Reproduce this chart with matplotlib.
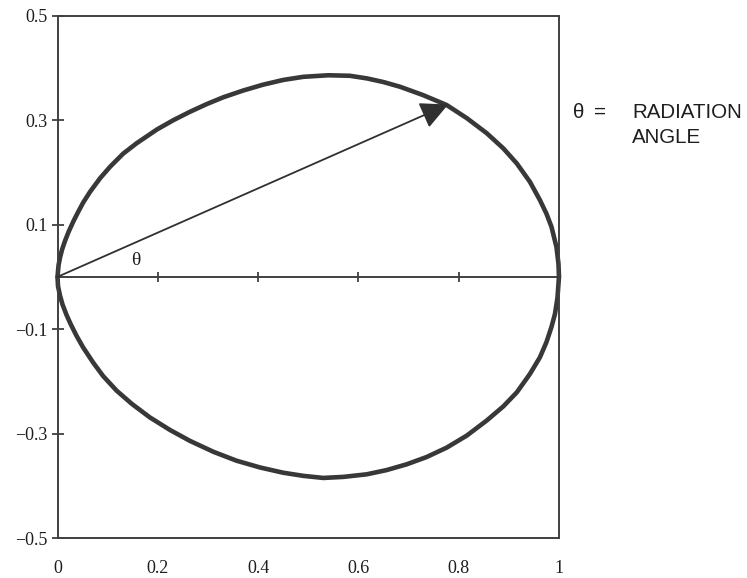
import matplotlib
matplotlib.use('Agg')
import matplotlib.pyplot as plt

# 读图得到的方向图曲线（上半部分、下半部分）
upper_x = [0.0, 0.002, 0.005, 0.009, 0.015, 0.022, 0.032, 0.041, 0.051, 0.065,
           0.085, 0.105, 0.131, 0.158, 0.198, 0.231, 0.264, 0.298, 0.331, 0.371,
           0.410, 0.450, 0.490, 0.540, 0.583, 0.617, 0.650, 0.683, 0.729, 0.776,
           0.816, 0.856, 0.889, 0.916, 0.942, 0.962, 0.975, 0.985, 0.995, 0.999, 1.0]
upper_y = [0.0, 0.022, 0.037, 0.052, 0.069, 0.086, 0.107, 0.124, 0.142, 0.163,
           0.189, 0.211, 0.236, 0.256, 0.282, 0.300, 0.316, 0.331, 0.344, 0.357,
           0.368, 0.377, 0.383, 0.386, 0.385, 0.380, 0.373, 0.364, 0.348, 0.329,
           0.304, 0.275, 0.246, 0.217, 0.182, 0.147, 0.121, 0.096, 0.057, 0.025, 0.0]
lower_x = [0.0, 0.001, 0.005, 0.010, 0.018, 0.026, 0.038, 0.051, 0.071, 0.091,
           0.118, 0.148, 0.184, 0.224, 0.264, 0.311, 0.357, 0.404, 0.450, 0.490,
           0.530, 0.570, 0.617, 0.656, 0.696, 0.736, 0.776, 0.816, 0.856, 0.889,
           0.916, 0.942, 0.962, 0.975, 0.985, 0.992, 0.997, 1.0]
lower_y = [0.0, -0.018, -0.036, -0.053, -0.073, -0.090, -0.113, -0.135, -0.164, -0.190,
           -0.218, -0.243, -0.269, -0.293, -0.314, -0.335, -0.352, -0.365, -0.375, -0.381,
           -0.385, -0.383, -0.378, -0.370, -0.359, -0.345, -0.327, -0.304, -0.275, -0.248,
           -0.221, -0.186, -0.154, -0.125, -0.096, -0.071, -0.040, 0.0]

arrow_tip = (0.779, 0.330)
theta_pos = (0.157, 0.032)

x_ticks = [0, 0.2, 0.4, 0.6, 0.8, 1]
x_labels = ['0', '0.2', '0.4', '0.6', '0.8', '1']
y_ticks = [0.5, 0.3, 0.1, -0.1, -0.3, -0.5]
y_labels = ['0.5', '0.3', '0.1', '\u22120.1', '\u22120.3', '\u22120.5']

line_col = '#383838'
frame_col = '#404040'
text_col = '#1e1e1e'

fig = plt.figure(figsize=(7.47, 5.78), dpi=100)
ax = fig.add_axes([0.077, 0.0692, 0.6713, 0.9036])

for xs, ys in [(upper_x, upper_y), (lower_x, lower_y)]:
    ax.plot(xs, ys, color=line_col, lw=3.3, clip_on=False,
            solid_capstyle='round', solid_joinstyle='round')

ax.annotate('', xy=arrow_tip, xytext=(0, 0),
            arrowprops=dict(arrowstyle='-|>,head_length=0.85,head_width=0.42',
                            mutation_scale=20, lw=1.3, color='#303030',
                            shrinkA=0, shrinkB=0))
ax.text(theta_pos[0], theta_pos[1], '\u03b8', fontsize=14, family='Liberation Serif',
        color=text_col, ha='center', va='center')

ax.set_xlim(0, 1)
ax.set_ylim(-0.5, 0.5)
for sp in ax.spines.values():
    sp.set_color(frame_col)
    sp.set_linewidth(1.4)

ax.set_xticks(x_ticks)
ax.set_xticklabels(x_labels, family='Liberation Serif', fontsize=13, color=text_col)
ax.tick_params(axis='x', length=0, pad=16)
ax.set_yticks(y_ticks)
ax.set_yticklabels(y_labels, family='Liberation Serif', fontsize=13, color=text_col)
ax.tick_params(axis='y', direction='inout', length=8, width=1.3, color=frame_col, pad=3)

# y=0 处的横轴及刻度
sec = ax.secondary_xaxis(0.5)
sec.set_xticks([0.2, 0.4, 0.6, 0.8])
sec.tick_params(direction='inout', length=7, width=1.3, color=frame_col,
                labelbottom=False, labeltop=False)
for sp in sec.spines.values():
    sp.set_color(frame_col)
    sp.set_linewidth(1.4)

# 右侧说明文字
fig.text(573 / 747, 1 - 118 / 578, '\u03b8', fontsize=14.8, family='Liberation Sans',
         color=text_col, va='baseline')
fig.text(594 / 747, 1 - 118 / 578, '=', fontsize=14.8, family='Liberation Sans',
         color=text_col, va='baseline')
fig.text(632 / 747, 1 - 118 / 578, 'RADIATION', fontsize=14.8, family='Liberation Sans',
         color=text_col, va='baseline')
fig.text(632 / 747, 1 - 143 / 578, 'ANGLE', fontsize=14.8, family='Liberation Sans',
         color=text_col, va='baseline')

fig.savefig('out.png', dpi=100)
